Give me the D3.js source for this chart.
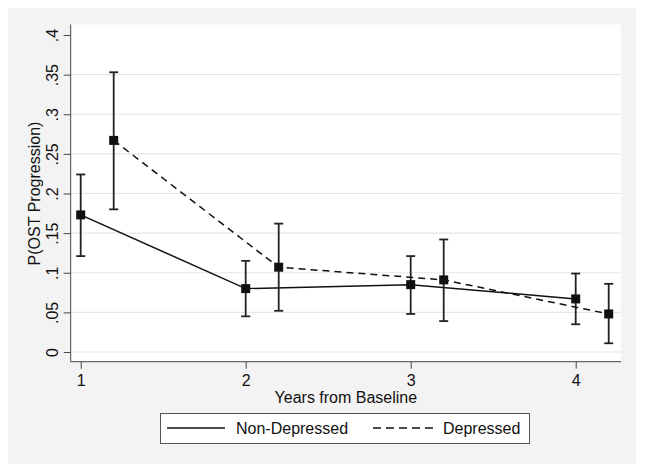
<!DOCTYPE html>
<html><head><meta charset="utf-8">
<script src="https://cdnjs.cloudflare.com/ajax/libs/d3/7.8.5/d3.min.js"></script>
<style>html,body{margin:0;padding:0;background:#fff;}svg{display:block;font-family:"Liberation Sans",Arial,sans-serif;}</style>
</head><body><svg id="c" width="645" height="474"></svg>
<script>
const yearsND = [1, 2, 3, 4];
const yearsD = [1.2, 2.2, 3.2, 4.2];
const nonDep = [0.173, 0.080, 0.085, 0.067];
const nonDepLo = [0.121, 0.045, 0.048, 0.035];
const nonDepHi = [0.224, 0.115, 0.121, 0.099];
const dep = [0.267, 0.107, 0.091, 0.048];
const depLo = [0.180, 0.052, 0.039, 0.011];
const depHi = [0.353, 0.162, 0.142, 0.086];
const xTicks = [1, 2, 3, 4];
const yTicks = [0, 0.05, 0.1, 0.15, 0.2, 0.25, 0.3, 0.35, 0.4];
const yTickLabels = ["0", ".05", ".1", ".15", ".2", ".25", ".3", ".35", ".4"];
const seriesNames = ["Non-Depressed", "Depressed"];

const svg = d3.select("#c");
svg.append("rect").attr("x", 8).attr("y", 8).attr("width", 628).attr("height", 456).attr("fill", "#f3f3f3");

const plot = {left: 70.7, right: 621, top: 24.5, bottom: 361.7};
const x = d3.scaleLinear().domain([1, 4]).range([80.7, 575.7]);
const y = d3.scaleLinear().domain([0, 0.4]).range([352, 35]);

svg.append("rect").attr("x", plot.left).attr("y", plot.top).attr("width", plot.right - plot.left).attr("height", plot.bottom - plot.top).attr("fill", "#fff");

// gridlines
svg.append("g").selectAll("line").data(yTicks.slice(0, 8)).join("line")
  .attr("x1", plot.left).attr("x2", plot.right)
  .attr("y1", d => y(d)).attr("y2", d => y(d))
  .attr("stroke", "#e6e6e6").attr("stroke-width", 1.2);

// axes
const yAxis = d3.axisLeft(y).tickValues(yTicks).tickFormat((d, i) => yTickLabels[i]).tickSize(7).tickPadding(0);
const gy = svg.append("g").attr("transform", `translate(${plot.left},0)`).call(yAxis);
gy.select(".domain").attr("d", `M0,${plot.top}V${plot.bottom}`).attr("stroke", "#444");
gy.selectAll(".tick line").attr("stroke", "#444");
gy.selectAll(".tick text").attr("font-size", 16).attr("fill", "#111")
  .attr("x", 0).attr("dy", 0)
  .attr("transform", "translate(-12.5,0) rotate(-90)")
  .attr("text-anchor", "middle");
const xAxis = d3.axisBottom(x).tickValues(xTicks).tickFormat(d3.format("d")).tickSize(7).tickPadding(0);
const gx = svg.append("g").attr("transform", `translate(0,${plot.bottom})`).call(xAxis);
gx.select(".domain").attr("d", `M${plot.left},0H${plot.right}`).attr("stroke", "#444");
gx.selectAll(".tick line").attr("stroke", "#444");
gx.selectAll(".tick text").attr("font-size", 16).attr("fill", "#111").attr("y", 24.5).attr("dy", 0);
gy.attr("font-family", null); gx.attr("font-family", null);

svg.append("text").attr("x", (plot.left + plot.right) / 2).attr("y", 403).attr("text-anchor", "middle")
  .attr("font-size", 16).attr("fill", "#111").text("Years from Baseline");
svg.append("text").attr("transform", `translate(40,${(y(0) + y(0.4)) / 2}) rotate(-90)`).attr("text-anchor", "middle")
  .attr("font-size", 16).attr("fill", "#111").text("P(OST Progression)");

function drawSeries(xs, vals, lo, hi, dash) {
  const pts = xs.map((d, i) => ({x: d, v: vals[i], lo: lo[i], hi: hi[i]}));
  const line = d3.line().x(d => x(d.x)).y(d => y(d.v));
  svg.append("path").datum(pts).attr("d", line).attr("fill", "none").attr("stroke", "#111")
    .attr("stroke-width", 1.5).attr("stroke-dasharray", dash);
  const g = svg.append("g");
  g.selectAll("line.v").data(pts).join("line").attr("x1", d => x(d.x)).attr("x2", d => x(d.x))
    .attr("y1", d => y(d.lo)).attr("y2", d => y(d.hi)).attr("stroke", "#222").attr("stroke-width", 1.8);
  g.selectAll("line.t").data(pts).join("line").attr("x1", d => x(d.x) - 4.5).attr("x2", d => x(d.x) + 4.5)
    .attr("y1", d => y(d.hi)).attr("y2", d => y(d.hi)).attr("stroke", "#222").attr("stroke-width", 1.8);
  g.selectAll("line.b").data(pts).join("line").attr("x1", d => x(d.x) - 4.5).attr("x2", d => x(d.x) + 4.5)
    .attr("y1", d => y(d.lo)).attr("y2", d => y(d.lo)).attr("stroke", "#222").attr("stroke-width", 1.8);
  g.selectAll("rect").data(pts).join("rect").attr("x", d => x(d.x) - 4.5).attr("y", d => y(d.v) - 4.5)
    .attr("width", 9).attr("height", 9).attr("fill", "#111");
}
drawSeries(yearsND, nonDep, nonDepLo, nonDepHi, null);
drawSeries(yearsD, dep, depLo, depHi, "7,5");

// legend
const lg = svg.append("g");
lg.append("rect").attr("x", 160.5).attr("y", 413.5).attr("width", 369).attr("height", 30)
  .attr("fill", "#fff").attr("stroke", "#555").attr("stroke-width", 1);
lg.append("line").attr("x1", 167).attr("x2", 225).attr("y1", 428).attr("y2", 428).attr("stroke", "#111").attr("stroke-width", 1.5);
lg.append("text").attr("x", 236).attr("y", 434).attr("font-size", 16).attr("fill", "#111").text(seriesNames[0]);
lg.append("line").attr("x1", 373).attr("x2", 433).attr("y1", 428).attr("y2", 428).attr("stroke", "#111").attr("stroke-width", 1.5).attr("stroke-dasharray", "8,5");
lg.append("text").attr("x", 443).attr("y", 434).attr("font-size", 16).attr("fill", "#111").text(seriesNames[1]);
</script></body></html>
